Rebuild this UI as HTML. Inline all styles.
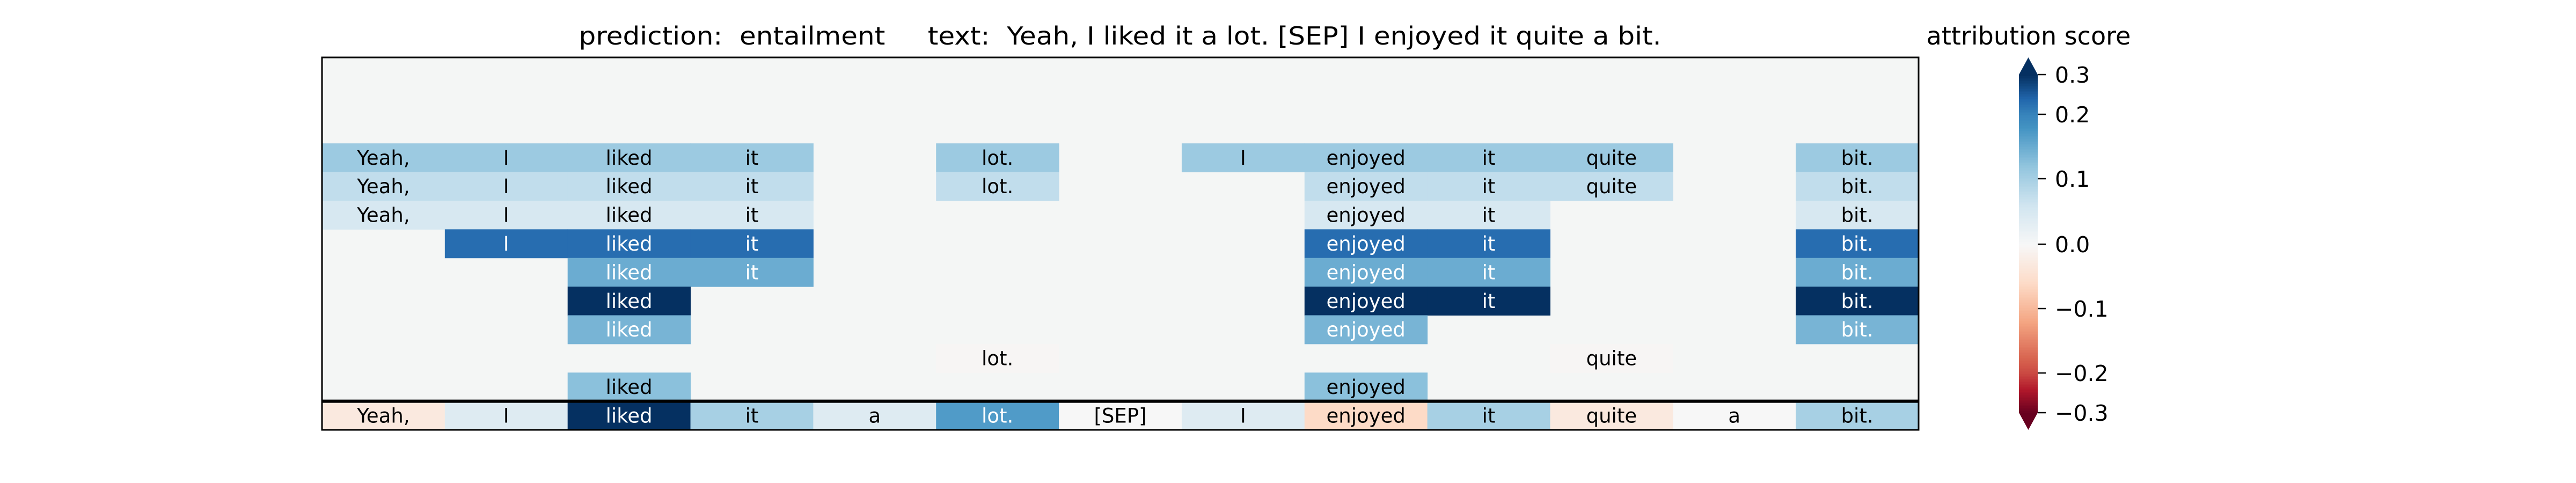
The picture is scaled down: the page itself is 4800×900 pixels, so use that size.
<!DOCTYPE html>
<html><head><meta charset="utf-8">
<style>
html,body{margin:0;padding:0;background:#fff;}
svg{display:block;}
text{font-family:"DejaVu Sans","Liberation Sans",sans-serif;white-space:pre;}
</style></head>
<body>
<svg id="chart" width="4800" height="900" viewBox="0 0 4800 900" xmlns="http://www.w3.org/2000/svg">
  <rect x="0" y="0" width="4800" height="900" fill="#ffffff"/>
  <text x="2087" y="83" font-size="46" text-anchor="middle" fill="#000" textLength="2017" lengthAdjust="spacingAndGlyphs">prediction:  entailment     text:  Yeah, I liked it a lot. [SEP] I enjoyed it quite a bit.</text>
  <g id="heat"></g>
  <g id="cbar"></g>
  <text x="3780" y="83" font-size="46" text-anchor="middle" fill="#000">attribution score</text>
</svg>
<script>
// ---- data ----
const tokens = ["Yeah,","I","liked","it","a","lot.","[SEP]","I","enjoyed","it","quite","a","bit."];
const row0 = [null,null,null,null,null,null,null,null,null,null,null,null,null];
const row1 = [null,null,null,null,null,null,null,null,null,null,null,null,null];
const row2 = [null,null,null,null,null,null,null,null,null,null,null,null,null];
const row3 = [0.11,0.11,0.11,0.11,null,0.11,null,0.11,0.11,0.11,0.11,null,0.11];
const row4 = [0.075,0.075,0.075,0.075,null,0.075,null,null,0.075,0.075,0.075,null,0.075];
const row5 = [0.05,0.05,0.05,0.05,null,null,null,null,0.05,0.05,null,null,0.05];
const row6 = [null,0.23,0.23,0.23,null,null,null,null,0.23,0.23,null,null,0.23];
const row7 = [null,null,0.15,0.15,null,null,null,null,0.15,0.15,null,null,0.15];
const row8 = [null,null,0.3,null,null,null,null,null,0.3,0.3,null,null,0.3];
const row9 = [null,null,0.14,null,null,null,null,null,0.14,null,null,null,0.14];
const row10 = [null,null,null,null,null,-0.004,null,null,null,null,-0.004,null,null];
const row11 = [null,null,0.125,null,null,null,null,null,0.125,null,null,null,null];
const bottomRow = [-0.03,0.04,0.3,0.1,0.04,0.17,0.0,0.04,-0.06,0.1,-0.03,0.0,0.1];
const upperRows = [row0,row1,row2,row3,row4,row5,row6,row7,row8,row9,row10,row11];
const cbTicks = [0.3,0.2,0.1,0.0,-0.1,-0.2,-0.3];
const cbTickLabels = ["0.3","0.2","0.1","0.0","\u22120.1","\u22120.2","\u22120.3"];

// ---- colormap RdBu ----
const rdbu = ["#67001f","#b2182b","#d6604d","#f4a582","#fddbc7","#f7f7f7","#d1e5f0","#92c5de","#4393c3","#2166ac","#053061"];
function hex(h){return [1,3,5].map(i=>parseInt(h.substr(i,2),16));}
function color(v){
  let t=(v+0.3)/0.6; t=Math.max(0,Math.min(1,t));
  const p=t*(rdbu.length-1); const i=Math.min(Math.floor(p),rdbu.length-2); const f=p-i;
  const a=hex(rdbu[i]), b=hex(rdbu[i+1]);
  return "rgb("+a.map((c,k)=>Math.round(c+(b[k]-c)*f)).join(",")+")";
}
// ---- axes ----
const X0=600, X1=3575, Y0=107, Y1=801;
const nCols=tokens.length, nRows=upperRows.length+1;
const cw=(X1-X0)/nCols, rh=(Y1-Y0)/nRows;
const xAt=c=>X0+c*cw, yAt=r=>Y0+r*rh;
const NS="http://www.w3.org/2000/svg";
function mk(tag,attrs,parent){const e=document.createElementNS(NS,tag);for(const k in attrs)e.setAttribute(k,attrs[k]);parent.appendChild(e);return e;}
const heat=document.getElementById("heat");
const bg=mk("rect",{x:X0,y:Y0,width:X1-X0,height:Y1-Y0,fill:"#f4f6f5"},heat);


function drawCell(r,c,v){
  const rect=mk("rect",{x:xAt(c),y:yAt(r),width:cw+0.5,height:rh+0.5,fill:color(v)},heat);
  
  
  const t=mk("text",{x:xAt(c)+cw/2,y:yAt(r)+rh/2+13,"font-size":37,"text-anchor":"middle",fill:Math.abs(v)>0.13?"#fff":"#000"},heat);
  t.textContent=tokens[c];
  
  
}
upperRows.forEach((row,r)=>row.forEach((v,c)=>{if(v!==null)drawCell(r,c,v);}));
bottomRow.forEach((v,c)=>drawCell(upperRows.length,c,v));
const sep=mk("line",{x1:X0,x2:X1,y1:yAt(upperRows.length),y2:yAt(upperRows.length),stroke:"#000","stroke-width":6},heat);


const frame=mk("rect",{x:X0,y:Y0,width:X1-X0,height:Y1-Y0,fill:"none",stroke:"#000","stroke-width":3},heat);



// ---- colorbar ----
const cb=document.getElementById("cbar");
const CBX0=3762, CBX1=3797;
const tickY=[139,213,333,455,575,695,769];
function valToY(v){
  for(let i=0;i<cbTicks.length-1;i++){
    const a=cbTicks[i],b=cbTicks[i+1];
    if(v<=a&&v>=b) return tickY[i]+(a-v)/(a-b)*(tickY[i+1]-tickY[i]);
  }
  return v>0?tickY[0]:tickY[tickY.length-1];
}
for(let y=tickY[0];y<tickY[tickY.length-1];y+=3){
  let v=0;
  for(let i=0;i<tickY.length-1;i++){ if(y>=tickY[i]&&y<=tickY[i+1]){v=cbTicks[i]+(y-tickY[i])/(tickY[i+1]-tickY[i])*(cbTicks[i+1]-cbTicks[i]);break;} }
  const s=mk("rect",{x:CBX0,y:y,width:CBX1-CBX0,height:3.5,fill:color(v)},cb);
  
  
}
const up=mk("polygon",{points:CBX0+","+tickY[0]+" "+(CBX0+CBX1)/2+",107 "+CBX1+","+tickY[0],fill:color(0.35)},cb);


const dn=mk("polygon",{points:CBX0+","+tickY[6]+" "+(CBX0+CBX1)/2+",801 "+CBX1+","+tickY[6],fill:color(-0.35)},cb);


cbTicks.forEach((v,i)=>{
  const y=valToY(v);
  const tk=mk("line",{x1:CBX1,x2:CBX1+15,y1:y,y2:y,stroke:"#000","stroke-width":2.5},cb);
  
  
  const lb=mk("text",{x:3829,y:y+15,"font-size":41,fill:"#000"},cb);
  lb.textContent=cbTickLabels[i];
  
  
});
</script>
</body></html>
